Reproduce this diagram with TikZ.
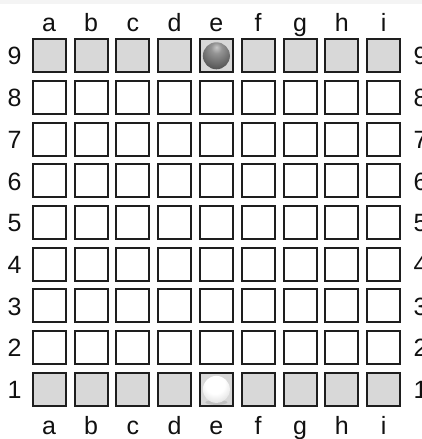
\documentclass[tikz,border=0pt]{standalone}
\usepackage{fontspec}
\setmainfont{Liberation Sans}
\definecolor{cellline}{HTML}{1E1E1E}
\definecolor{homegray}{HTML}{D8D8D8}
\definecolor{labelcol}{HTML}{111111}
\definecolor{topstrip}{HTML}{F4F4F4}
\pgfdeclareradialshading{blackballshade}{\pgfpoint{0bp}{16bp}}{%
  color(0bp)=(black!22); color(10bp)=(black!42); color(26bp)=(black!58);
  color(40bp)=(black!72); color(50bp)=(black!88); color(100bp)=(black!88)}
\pgfdeclareradialshading{whiteballshade}{\pgfpoint{-3bp}{12bp}}{%
  color(0bp)=(white); color(18bp)=(white); color(32bp)=(black!10);
  color(44bp)=(black!28); color(54bp)=(black!45); color(100bp)=(black!45)}
\begin{document}
\begin{tikzpicture}[x=1pt,y=1pt,
  cell/.style={draw=cellline, line width=2pt, minimum size=33pt, inner sep=0pt, fill=white},
  homecell/.style={cell, fill=homegray},
  lbl/.style={font=\fontsize{25}{25}\selectfont, text=labelcol, inner sep=0pt, anchor=base},
  piece/.style={circle, minimum size=27pt, inner sep=0pt}]
\useasboundingbox (0,0) rectangle (422,439);
\fill[topstrip] (0,435) rectangle (422,439);
% cells
\foreach \col [count=\c from 0] in {a,b,c,d,e,f,g,h,i} {
  \foreach \r in {1,...,9} {
    \ifnum\r=1
      \node[homecell] (\col\r) at ({49.2+\c*41.8},{383.2-(9-\r)*41.7}) {};
    \else\ifnum\r=9
      \node[homecell] (\col\r) at ({49.2+\c*41.8},{383.2-(9-\r)*41.7}) {};
    \else
      \node[cell] (\col\r) at ({49.2+\c*41.8},{383.2-(9-\r)*41.7}) {};
    \fi\fi
  }
  \node[lbl] (top\col) at ({49.2+\c*41.8},407.3) {\col};
  \node[lbl] (bot\col) at ({49.2+\c*41.8},4.5) {\col};
}
% rank numbers
\foreach \r in {1,...,9} {
  \node[lbl] (left\r) at (14.5,{374-(9-\r)*41.7}) {\r};
  \node[lbl] (right\r) at (420.5,{374-(9-\r)*41.7}) {\r};
}
% pieces
\node[piece, shading=blackballshade] (blackpiece) at (e9) {};
\fill[black, opacity=0.10] ([yshift=-13pt]e1.center) ellipse (11pt and 2.5pt);
\node[piece, shading=whiteballshade] (whitepiece) at (e1) {};
\end{tikzpicture}
\end{document}
